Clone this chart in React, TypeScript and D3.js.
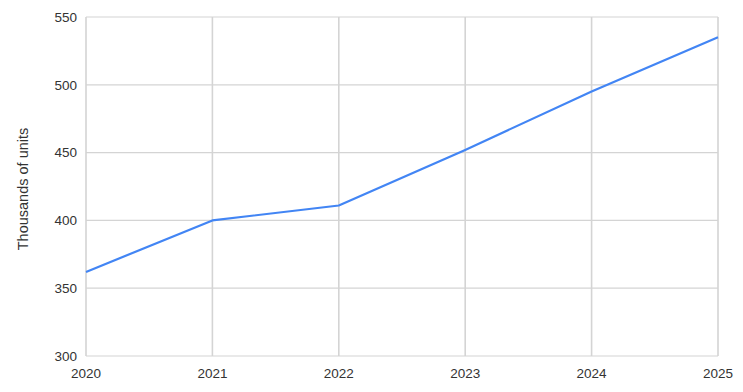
import React from "react";
import * as d3 from "d3";

const years = ["2020", "2021", "2022", "2023", "2024", "2025"];
const values = [362, 400, 411, 452, 495, 535];
const yTicks = [300, 350, 400, 450, 500, 550];
const yTitle = "Thousands of units";

export default function App() {
  const W = 743, H = 392;
  const m = { left: 86, right: 25, top: 17, bottom: 36 };
  const x = d3.scalePoint<string>().domain(years).range([m.left, W - m.right]);
  const y = d3.scaleLinear().domain([300, 550]).range([H - m.bottom, m.top]);
  const line = d3.line<number>().x((_, i) => x(years[i])!).y((d) => y(d));
  const font = "'Liberation Sans', Arial, sans-serif";
  return (
    <svg width={W} height={H} style={{ position: "absolute", left: 0, top: 0, background: "#fff" }}>
      {yTicks.map((t) => (
        <line key={"h" + t} x1={m.left} x2={W - m.right} y1={y(t)} y2={y(t)} stroke="#d4d4d4" strokeWidth={1.2} />
      ))}
      {years.map((yr) => (
        <line key={"v" + yr} x1={x(yr)} x2={x(yr)} y1={m.top} y2={H - m.bottom} stroke="#d4d4d4" strokeWidth={1.6} />
      ))}
      {yTicks.map((t) => (
        <text key={"yl" + t} x={m.left - 9} y={y(t)} dy="0.35em" textAnchor="end" fontFamily={font} fontSize={13.5} fill="#333">
          {t}
        </text>
      ))}
      {years.map((yr) => (
        <text key={"xl" + yr} x={x(yr)} y={H - m.bottom + 17} dy="0.35em" textAnchor="middle" fontFamily={font} fontSize={13.5} fill="#333">
          {yr}
        </text>
      ))}
      <text transform={`translate(23,189) rotate(-90)`} textAnchor="middle" dy="0.35em" fontFamily={font} fontSize={14.5} fill="#333">
        {yTitle}
      </text>
      <path d={line(values) || ""} fill="none" stroke="#4285f4" strokeWidth={2.2} strokeLinejoin="round" />
    </svg>
  );
}
